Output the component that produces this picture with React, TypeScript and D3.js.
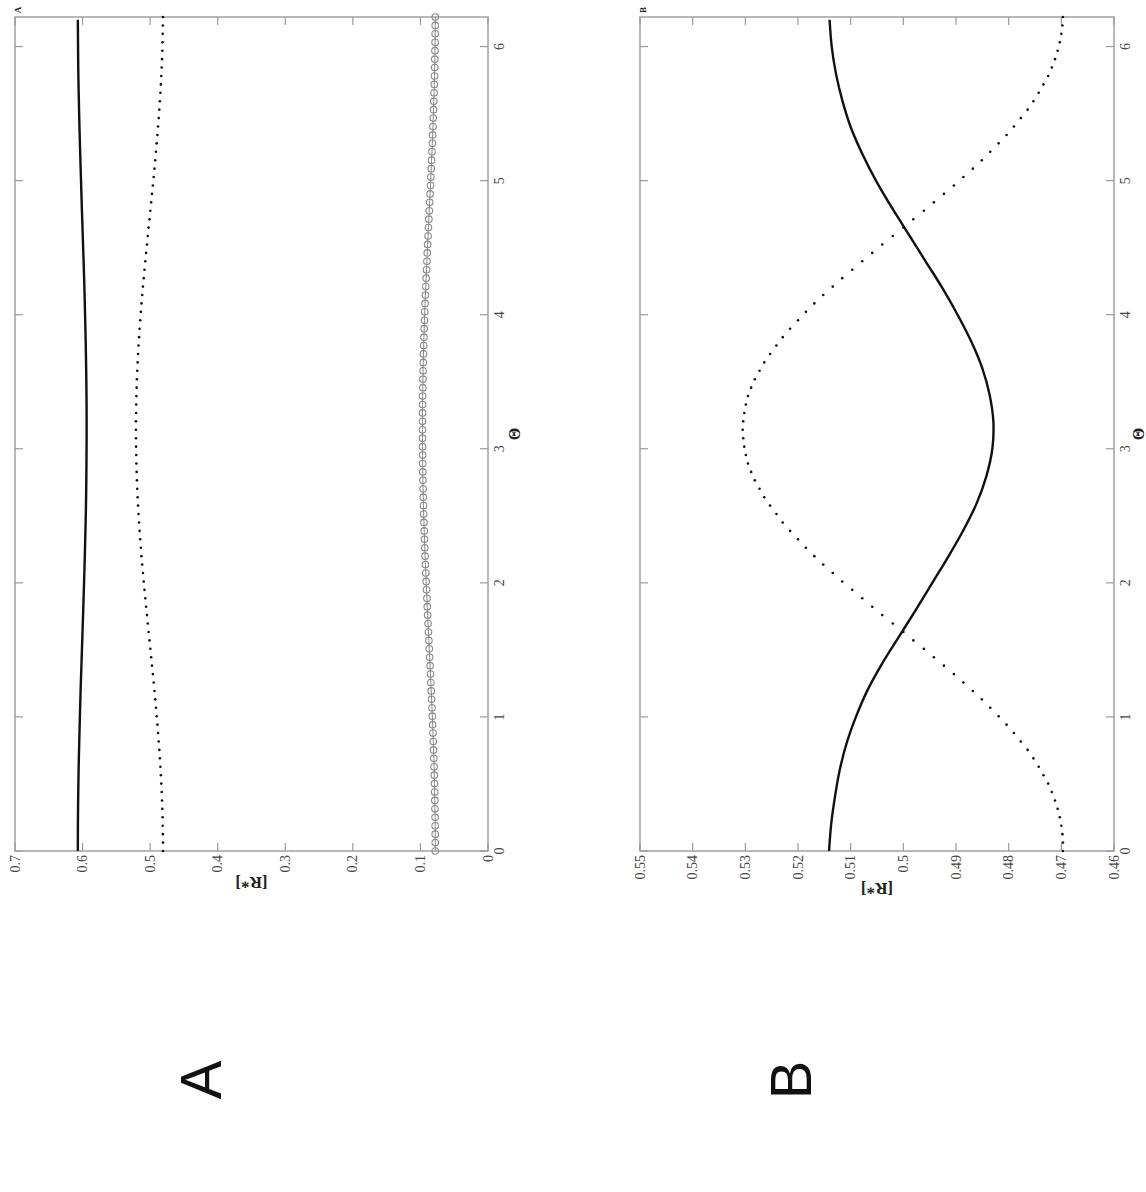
import * as d3 from 'd3';

// theta sample grid (markers) and coarser grid for the solid curves
const thetaSamples = [
  0, 0.0628, 0.1257, 0.1885, 0.2513, 0.3142, 0.377, 0.4398, 0.5027, 0.5655,
  0.6283, 0.6912, 0.754, 0.8168, 0.8796, 0.9425, 1.0053, 1.0681, 1.131, 1.1938,
  1.2566, 1.3195, 1.3823, 1.4451, 1.508, 1.5708, 1.6336, 1.6965, 1.7593, 1.8221,
  1.885, 1.9478, 2.0106, 2.0735, 2.1363, 2.1991, 2.2619, 2.3248, 2.3876, 2.4504,
  2.5133, 2.5761, 2.6389, 2.7018, 2.7646, 2.8274, 2.8903, 2.9531, 3.0159, 3.0788,
  3.1416, 3.2044, 3.2673, 3.3301, 3.3929, 3.4558, 3.5186, 3.5814, 3.6442, 3.7071,
  3.7699, 3.8327, 3.8956, 3.9584, 4.0212, 4.0841, 4.1469, 4.2097, 4.2726, 4.3354,
  4.3982, 4.4611, 4.5239, 4.5867, 4.6496, 4.7124, 4.7752, 4.8381, 4.9009, 4.9637,
  5.0265, 5.0894, 5.1522, 5.215, 5.2779, 5.3407, 5.4035, 5.4664, 5.5292, 5.592,
  5.6549, 5.7177, 5.7805, 5.8434, 5.9062, 5.969, 6.0319, 6.0947, 6.1575, 6.2204
];

const thetaLine = [
  0, 0.2, 0.4, 0.6, 0.8, 1.0, 1.2, 1.4, 1.6, 1.8, 2.0, 2.2, 2.4, 2.6, 2.8, 3.0,
  3.2, 3.4, 3.6, 3.8, 4.0, 4.2, 4.4, 4.6, 4.8, 5.0, 5.2, 5.4, 5.6, 5.8, 6.0, 6.2
];

const aSolid = [
  0.607, 0.6069, 0.6065, 0.6059, 0.605, 0.604, 0.6029, 0.6016, 0.6003, 0.599, 0.5978,
  0.5967, 0.5957, 0.5949, 0.5944, 0.5941, 0.594, 0.5942, 0.5947, 0.5954, 0.5963,
  0.5973, 0.5985, 0.5998, 0.6011, 0.6023, 0.6035, 0.6046, 0.6055, 0.6063, 0.6067, 0.607
];

const aDotted = [
  0.481, 0.481, 0.4812, 0.4814, 0.4816, 0.482, 0.4824, 0.4829, 0.4835, 0.4841,
  0.4848, 0.4856, 0.4864, 0.4873, 0.4883, 0.4892, 0.4903, 0.4914, 0.4925, 0.4936,
  0.4948, 0.496, 0.4973, 0.4985, 0.4997, 0.501, 0.5023, 0.5035, 0.5047, 0.506,
  0.5072, 0.5084, 0.5095, 0.5106, 0.5117, 0.5128, 0.5137, 0.5147, 0.5156, 0.5164,
  0.5172, 0.5179, 0.5185, 0.5191, 0.5196, 0.52, 0.5204, 0.5206, 0.5208, 0.521,
  0.521, 0.521, 0.5208, 0.5206, 0.5204, 0.52, 0.5196, 0.5191, 0.5185, 0.5179,
  0.5172, 0.5164, 0.5156, 0.5147, 0.5137, 0.5128, 0.5117, 0.5106, 0.5095, 0.5084,
  0.5072, 0.506, 0.5047, 0.5035, 0.5023, 0.501, 0.4997, 0.4985, 0.4973, 0.496,
  0.4948, 0.4936, 0.4925, 0.4914, 0.4903, 0.4892, 0.4883, 0.4873, 0.4864, 0.4856,
  0.4848, 0.4841, 0.4835, 0.4829, 0.4824, 0.482, 0.4816, 0.4814, 0.4812, 0.481
];

const aCircles = [
  0.078, 0.078, 0.0781, 0.0782, 0.0783, 0.0785, 0.0787, 0.0789, 0.0792, 0.0795,
  0.0798, 0.0802, 0.0806, 0.081, 0.0814, 0.0819, 0.0824, 0.0829, 0.0835, 0.084,
  0.0846, 0.0851, 0.0857, 0.0863, 0.0869, 0.0875, 0.0881, 0.0887, 0.0893, 0.0899,
  0.0904, 0.091, 0.0915, 0.0921, 0.0926, 0.0931, 0.0936, 0.094, 0.0944, 0.0948,
  0.0952, 0.0955, 0.0958, 0.0961, 0.0963, 0.0965, 0.0967, 0.0968, 0.0969, 0.097,
  0.097, 0.097, 0.0969, 0.0968, 0.0967, 0.0965, 0.0963, 0.0961, 0.0958, 0.0955,
  0.0952, 0.0948, 0.0944, 0.094, 0.0936, 0.0931, 0.0926, 0.0921, 0.0915, 0.091,
  0.0904, 0.0899, 0.0893, 0.0887, 0.0881, 0.0875, 0.0869, 0.0863, 0.0857, 0.0851,
  0.0846, 0.084, 0.0835, 0.0829, 0.0824, 0.0819, 0.0814, 0.081, 0.0806, 0.0802,
  0.0798, 0.0795, 0.0792, 0.0789, 0.0787, 0.0785, 0.0783, 0.0782, 0.0781, 0.078
];

const bSolid = [
  0.5141, 0.5137, 0.513, 0.5121, 0.5108, 0.509, 0.5068, 0.504, 0.5008, 0.4976, 0.4945,
  0.4914, 0.4885, 0.486, 0.4842, 0.4831, 0.4829, 0.4836, 0.485, 0.4871, 0.4897,
  0.4926, 0.4958, 0.499, 0.5022, 0.5052, 0.5078, 0.51, 0.5116, 0.5128, 0.5136, 0.514
];

const bDotted = [
  0.4697, 0.4697, 0.4698, 0.47, 0.4703, 0.4707, 0.4712, 0.4718, 0.4725, 0.4734,
  0.4743, 0.4753, 0.4764, 0.4777, 0.479, 0.4804, 0.4819, 0.4835, 0.4851, 0.4868,
  0.4886, 0.4904, 0.4923, 0.4942, 0.4961, 0.4981, 0.5, 0.502, 0.504, 0.5059,
  0.5078, 0.5097, 0.5116, 0.5134, 0.5152, 0.5169, 0.5185, 0.52, 0.5215, 0.5229,
  0.5241, 0.5253, 0.5264, 0.5273, 0.5282, 0.5289, 0.5295, 0.5299, 0.5302, 0.5304,
  0.5305, 0.5304, 0.5302, 0.5299, 0.5295, 0.5289, 0.5282, 0.5273, 0.5264, 0.5253,
  0.5241, 0.5229, 0.5215, 0.52, 0.5185, 0.5169, 0.5152, 0.5134, 0.5116, 0.5097,
  0.5078, 0.5059, 0.504, 0.502, 0.5, 0.4981, 0.4961, 0.4942, 0.4923, 0.4904,
  0.4886, 0.4868, 0.4851, 0.4835, 0.4819, 0.4804, 0.479, 0.4777, 0.4764, 0.4753,
  0.4743, 0.4734, 0.4725, 0.4718, 0.4712, 0.4707, 0.4703, 0.47, 0.4698, 0.4697
];

const thetaTicks = [0, 1, 2, 3, 4, 5, 6];
const aTicks = [0, 0.1, 0.2, 0.3, 0.4, 0.5, 0.6, 0.7];
const aTickLabels = ['0', '0.1', '0.2', '0.3', '0.4', '0.5', '0.6', '0.7'];
const bTicks = [0.46, 0.47, 0.48, 0.49, 0.5, 0.51, 0.52, 0.53, 0.54, 0.55];
const bTickLabels = ['0.46', '0.47', '0.48', '0.49', '0.5', '0.51', '0.52', '0.53', '0.54', '0.55'];

const AXIS = '#9a9a9a';
const SERIF = '"Liberation Serif", "DejaVu Serif", serif';

function Panel({ left, bottom, width, height, domain, ticks, tickLabels, tag, labelOffset, thetaOffset, solid, dotted, circles }) {
  const x = d3.scaleLinear().domain([0, 6.2204]).range([0, width]);
  const y = d3.scaleLinear().domain(domain).range([height, 0]);

  const line = d3
    .line()
    .x((d) => x(d[0]))
    .y((d) => y(d[1]))
    .curve(d3.curveCatmullRom.alpha(0.5));

  const solidPts = thetaLine.map((t, i) => [t, solid[i]]);
  const circlePts = circles ? thetaSamples.map((t, i) => [t, circles[i]]) : null;
  const tick = 8;

  return (
    <g transform={`translate(${left},${bottom}) rotate(-90)`}>
      <rect x={0} y={0} width={width} height={height} fill="none" stroke={AXIS} strokeWidth={1.4} />

      {thetaTicks.map((t) => (
        <g key={`t${t}`}>
          <line x1={x(t)} x2={x(t)} y1={height} y2={height - tick} stroke={AXIS} strokeWidth={1.2} />
          <line x1={x(t)} x2={x(t)} y1={0} y2={tick} stroke={AXIS} strokeWidth={1.2} />
          <text x={x(t)} y={height + 16} textAnchor="middle" fontFamily={SERIF} fontSize={14} fill="#444">
            {t}
          </text>
        </g>
      ))}

      {ticks.map((v, i) => (
        <g key={`v${i}`}>
          <line x1={0} x2={tick} y1={y(v)} y2={y(v)} stroke={AXIS} strokeWidth={1.2} />
          <line x1={width} x2={width - tick} y1={y(v)} y2={y(v)} stroke={AXIS} strokeWidth={1.2} />
          <text x={-4} y={y(v)} textAnchor="end" dominantBaseline="central" fontFamily={SERIF} fontSize={14} fill="#444">
            {tickLabels[i]}
          </text>
        </g>
      ))}

      <text x={width / 2} y={height + thetaOffset} textAnchor="middle" dominantBaseline="central" fontFamily={SERIF} fontSize={16} fontWeight="bold" fill="#222">
        Θ
      </text>
      <text
        transform={`translate(${labelOffset},${height / 2}) rotate(-90)`}
        textAnchor="middle"
        dominantBaseline="central"
        fontFamily={SERIF}
        fontSize={17}
        fontWeight="bold"
        fill="#222"
      >
        [R*]
      </text>
      <text x={width + 7} y={3} textAnchor="middle" dominantBaseline="central" fontFamily={SERIF} fontSize={9} fontWeight="bold" fill="#222">
        {tag}
      </text>

      {circlePts ? (
        <g>
          <path d={d3.line()(circlePts.map((d) => [x(d[0]), y(d[1])]))} fill="none" stroke="#888" strokeWidth={1} />
          {circlePts.map((d, i) => (
            <circle key={`c${i}`} cx={x(d[0])} cy={y(d[1])} r={3.3} fill="none" stroke="#888" strokeWidth={1.1} />
          ))}
        </g>
      ) : null}

      {thetaSamples.map((t, i) => (
        <circle key={`d${i}`} cx={x(t)} cy={y(dotted[i])} r={1.3} fill="#111" />
      ))}

      <path d={line(solidPts) || ''} fill="none" stroke="#111" strokeWidth={2.4} />
    </g>
  );
}

export default function App() {
  return (
    <div>
      <style>{'body{margin:0}'}</style>
      <svg width={1146} height={1192} style={{ display: 'block', background: '#fff' }}>
        <Panel
          left={15}
          bottom={851}
          width={834}
          height={473}
          domain={[0, 0.7]}
          ticks={aTicks}
          tickLabels={aTickLabels}
          tag="A"
          labelOffset={-31}
          thetaOffset={26}
          solid={aSolid}
          dotted={aDotted}
          circles={aCircles}
        />
        <Panel
          left={640}
          bottom={851}
          width={834}
          height={474}
          domain={[0.46, 0.55]}
          ticks={bTicks}
          tickLabels={bTickLabels}
          tag="B"
          labelOffset={-37}
          thetaOffset={24}
          solid={bSolid}
          dotted={bDotted}
          circles={null}
        />
        <text transform="translate(200,1080) rotate(-90)" textAnchor="middle" dominantBaseline="central" fontFamily='"Liberation Sans", Arial, sans-serif' fontSize={58} fill="#111">
          A
        </text>
        <text transform="translate(790,1080) rotate(-90)" textAnchor="middle" dominantBaseline="central" fontFamily='"Liberation Sans", Arial, sans-serif' fontSize={58} fill="#111">
          B
        </text>
      </svg>
    </div>
  );
}
